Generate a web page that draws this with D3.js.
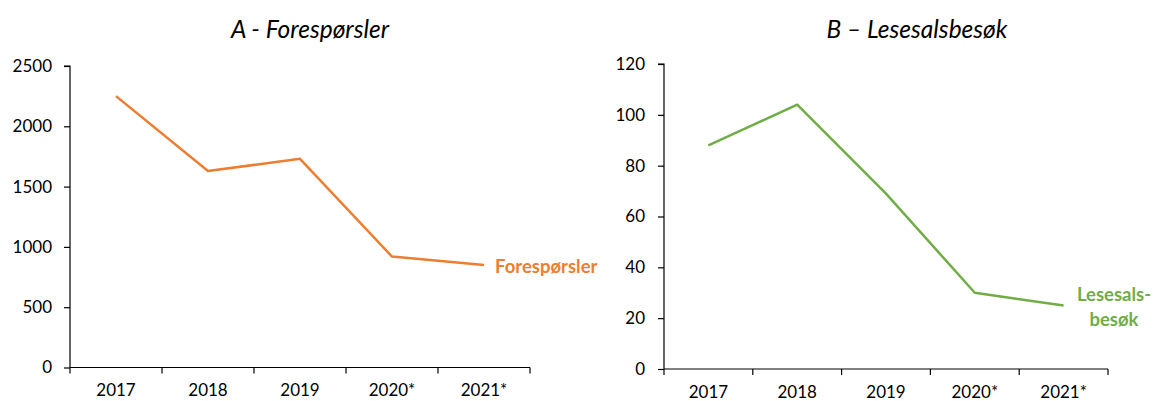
<!DOCTYPE html>
<html><head><meta charset="utf-8">
<script src="https://cdn.jsdelivr.net/npm/d3@7"></script>
<style>body{margin:0;background:#fff}svg{display:block}text{font-family:Lato,"Open Sans",sans-serif}</style>
</head><body>
<svg id="c" width="1153" height="401"></svg>
<script>
const categories = ["2017","2018","2019","2020*","2021*"];
const foresporsler = [2250,1630,1730,920,850];
const lesesalsbesok = [88,104,69,30,25];
const ticksA = [0,500,1000,1500,2000,2500];
const ticksB = [0,20,40,60,80,100,120];

const svg = d3.select("#c");

function panel(cfg){
  const g = svg.append("g");
  const x = d3.scaleBand().domain(categories).range([cfg.x0,cfg.x1]);
  const y = d3.scaleLinear().domain([0,cfg.max]).range([cfg.y0,cfg.y1]);
  const ya = g.append("g").attr("transform",`translate(${cfg.x0},0)`)
    .call(d3.axisLeft(y).tickValues(cfg.ticks).tickSize(6).tickPadding(cfg.pad).tickFormat(d3.format("d")));
  ya.select(".domain").attr("d",`M-6,${cfg.y1}H0V${cfg.y0}`).attr("stroke","#000").attr("stroke-width",1.2);
  ya.selectAll(".tick line").attr("stroke","#000").attr("stroke-width",1.2);
  ya.selectAll("text").attr("font-size",17).attr("fill","#000").style("font-family","Lato,sans-serif");
  const xa = g.append("g").attr("transform",`translate(0,${cfg.y0})`)
    .call(d3.axisBottom(x).tickSize(0).tickPadding(16.5));
  xa.select(".domain").attr("d",`M${cfg.x0},0H${cfg.x1}`).attr("stroke","#000").attr("stroke-width",1.2);
  xa.selectAll("text").attr("font-size",17).attr("fill","#000").style("font-family","Lato,sans-serif");
  const edges = categories.map(c=>x(c)).concat([cfg.x1]);
  g.selectAll(".xt").data(edges).join("line").attr("x1",d=>d).attr("x2",d=>d)
    .attr("y1",cfg.y0).attr("y2",cfg.y0+6).attr("stroke","#000").attr("stroke-width",1.2);
  const line = d3.line().x((d,i)=>x(categories[i])+x.bandwidth()/2).y(d=>y(d));
  g.append("path").datum(cfg.data).attr("d",line).attr("fill","none")
    .attr("stroke",cfg.color).attr("stroke-width",2.5).attr("stroke-linejoin","round");
  g.append("text").attr("x",cfg.tx).attr("y",38).attr("text-anchor","middle")
    .attr("font-size",24.5).attr("font-style","italic").attr("fill","#000").text(cfg.title);
  const lb = g.append("text").attr("fill",cfg.color).attr("font-weight","bold").attr("font-size",18.5)
    .attr("text-anchor",cfg.lanchor);
  cfg.label.forEach((t,i)=>lb.append("tspan").attr("x",cfg.lx).attr("y",cfg.ly+i*25).text(t));
}

panel({x0:70,x1:530,y0:367.5,y1:66,max:2500,ticks:ticksA,data:foresporsler,color:"#ED7D31",pad:12,
  title:"A - Forespørsler",tx:310,label:["Forespørsler"],lx:495,ly:273,lanchor:"start"});
panel({x0:664,x1:1108,y0:369,y1:64,max:120,ticks:ticksB,data:lesesalsbesok,color:"#70AD47",pad:13,
  title:"B – Lesesalsbesøk",tx:917,label:["Lesesals-","besøk"],lx:1114,ly:301,lanchor:"middle"});
</script>
</body></html>
